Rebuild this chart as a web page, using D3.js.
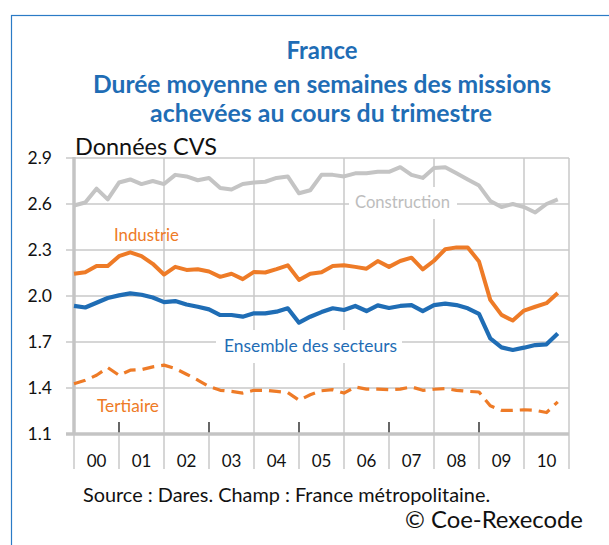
<!DOCTYPE html>
<html>
<head>
<meta charset="utf-8">
<script src="https://cdn.jsdelivr.net/npm/d3@7"></script>
<style>
  body { margin: 0; background: #fff; }
  svg { display: block; }
  text { font-family: Lato, "Open Sans", sans-serif; }
</style>
</head>
<body>
<div id="chart"></div>
<script>
// tick labels (years) and the y ticks
var years = ["00", "01", "02", "03", "04", "05", "06", "07", "08", "09", "10"];
var yTicks = [1.1, 1.4, 1.7, 2.0, 2.3, 2.6, 2.9];

// quarterly values, 2000T1 .. 2010T4
var construction = [2.59, 2.61, 2.70, 2.63, 2.74, 2.76, 2.73, 2.75, 2.73, 2.79, 2.78, 2.755,
    2.77, 2.705, 2.695, 2.73, 2.74, 2.745, 2.77, 2.78, 2.67, 2.69, 2.79,
    2.79, 2.78, 2.80, 2.80, 2.81, 2.81, 2.84, 2.79, 2.77, 2.835, 2.84,
    2.80, 2.76, 2.72, 2.62, 2.58, 2.60, 2.58, 2.545, 2.60, 2.63];
var industrie = [2.145, 2.155, 2.195, 2.195, 2.26, 2.285, 2.26, 2.21, 2.14, 2.19, 2.17, 2.175,
    2.16, 2.125, 2.145, 2.11, 2.157, 2.153, 2.175, 2.20, 2.105, 2.145, 2.155,
    2.195, 2.20, 2.19, 2.178, 2.228, 2.19, 2.228, 2.25, 2.174, 2.23, 2.305,
    2.317, 2.317, 2.225, 1.975, 1.877, 1.84, 1.905, 1.93, 1.953, 2.02];
var ensemble = [1.936, 1.925, 1.956, 1.987, 2.004, 2.017, 2.008, 1.99, 1.96, 1.967, 1.945, 1.93,
    1.913, 1.876, 1.876, 1.865, 1.887, 1.887, 1.898, 1.92, 1.826, 1.865, 1.895,
    1.92, 1.909, 1.935, 1.902, 1.939, 1.922, 1.935, 1.941, 1.902, 1.94, 1.95,
    1.941, 1.92, 1.883, 1.724, 1.665, 1.648, 1.663, 1.68, 1.685, 1.756];
var tertiaire = [1.428, 1.45, 1.483, 1.533, 1.483, 1.516, 1.52, 1.538, 1.549, 1.527, 1.49, 1.452,
    1.41, 1.385, 1.378, 1.367, 1.385, 1.385, 1.378, 1.37, 1.32, 1.356, 1.382,
    1.389, 1.367, 1.407, 1.393, 1.393, 1.389, 1.393, 1.407, 1.385, 1.392, 1.396,
    1.385, 1.378, 1.374, 1.284, 1.254, 1.254, 1.258, 1.254, 1.24, 1.31];

var quarters = [];
years.forEach(function(y) { [1, 2, 3, 4].forEach(function(q) { quarters.push("20" + y + "T" + q); }); });

var width = 609, height = 545;
var blue = "#1f6db5", orange = "#ee7b27", grey = "#c4c4c4", gridCol = "#c8c8c8";

var svg = d3.select("#chart").append("svg")
    .attr("width", width)
    .attr("height", height);

// blue frame, runs off the right and bottom edge
svg.append("rect")
    .attr("x", 11.5).attr("y", 15.5)
    .attr("width", 700).attr("height", 700)
    .attr("fill", "none")
    .attr("stroke", "#2b7bc6")
    .attr("stroke-width", 1.2);

// shrink / grow a text so it spans a given width
function fit(sel, w) {
    var fs = parseFloat(sel.attr("font-size"));
    var len = sel.node().getComputedTextLength();
    sel.attr("font-size", (fs * w / len).toFixed(2));
    return sel;
}

// titles
fit(svg.append("text").attr("x", 322).attr("y", 59).attr("text-anchor", "middle")
    .attr("font-size", 20).attr("font-weight", 700).attr("fill", blue).text("France"), 71);
fit(svg.append("text").attr("x", 322).attr("y", 93).attr("text-anchor", "middle")
    .attr("font-size", 20).attr("font-weight", 700).attr("fill", blue)
    .text("Durée moyenne en semaines des missions"), 458);
fit(svg.append("text").attr("x", 321).attr("y", 122).attr("text-anchor", "middle")
    .attr("font-size", 20).attr("font-weight", 700).attr("fill", blue)
    .text("achevées au cours du trimestre"), 342);

var x = d3.scaleLinear().domain([0, quarters.length]).range([74, 569]);
var y = d3.scaleLinear().domain([1.1, 2.9]).range([434, 158]);

// horizontal grid
var grid = svg.append("g").attr("stroke", gridCol).attr("stroke-width", 1.5);
grid.selectAll("line.h")
    .data(yTicks.slice(1))
    .enter().append("line")
    .attr("class", "h")
    .attr("x1", 66).attr("x2", x(quarters.length))
    .attr("y1", function(d) { return y(d); })
    .attr("y2", function(d) { return y(d); });

// vertical grid every two years + right border
var evenYears = d3.range(2, years.length + 1, 2);
grid.selectAll("line.v")
    .data(evenYears.concat([years.length]))
    .enter().append("line")
    .attr("class", "v")
    .attr("x1", function(d) { return x(d * 4); })
    .attr("x2", function(d) { return x(d * 4); })
    .attr("y1", y(2.9)).attr("y2", y(1.1));

// year separators under the axis
grid.selectAll("line.sep")
    .data(d3.range(0, years.length + 1))
    .enter().append("line")
    .attr("class", "sep")
    .attr("x1", function(d) { return x(d * 4); })
    .attr("x2", function(d) { return x(d * 4); })
    .attr("y1", y(1.1)).attr("y2", 469);

// black ticks on odd years
svg.append("g").selectAll("line")
    .data(d3.range(1, years.length, 2))
    .enter().append("line")
    .attr("x1", function(d) { return x(d * 4); })
    .attr("x2", function(d) { return x(d * 4); })
    .attr("y1", 422).attr("y2", y(1.1))
    .attr("stroke", "#000").attr("stroke-width", 1.2);

// axes
svg.append("line").attr("x1", 66).attr("x2", x(quarters.length))
    .attr("y1", y(1.1)).attr("y2", y(1.1))
    .attr("stroke", grey).attr("stroke-width", 3.5);
svg.append("line").attr("x1", x(0)).attr("x2", x(0))
    .attr("y1", y(2.9) - 1).attr("y2", y(1.1) + 1)
    .attr("stroke", grey).attr("stroke-width", 3.5);

// y labels
svg.append("g").selectAll("text")
    .data(yTicks)
    .enter().append("text")
    .attr("x", 52)
    .attr("y", function(d) { return y(d) + 6; })
    .attr("text-anchor", "end")
    .attr("font-size", 17.5)
    .attr("fill", "#111")
    .text(function(d) { return d3.format(".1f")(d); });

// year labels
svg.append("g").selectAll("text")
    .data(years)
    .enter().append("text")
    .attr("x", function(d, i) { return x(i * 4 + 2); })
    .attr("y", 467)
    .attr("text-anchor", "middle")
    .attr("font-size", 17)
    .attr("fill", "#111")
    .text(function(d) { return d; });

// "Données CVS"
fit(svg.append("text").attr("x", 75).attr("y", 155)
    .attr("font-size", 20).attr("fill", "#111").text("Données CVS"), 142);

// white boxes behind labels that cut the grid
svg.append("rect").attr("x", 349).attr("y", 187).attr("width", 108).attr("height", 32).attr("fill", "#fff");
svg.append("rect").attr("x", 216).attr("y", 330).attr("width", 186).attr("height", 33).attr("fill", "#fff");

var line = d3.line()
    .x(function(d, i) { return x(i); })
    .y(function(d) { return y(d); });

var series = [
    { values: construction, color: grey, dash: null, w: 4 },
    { values: tertiaire, color: orange, dash: "12,7", w: 3.2 },
    { values: industrie, color: orange, dash: null, w: 4 },
    { values: ensemble, color: blue, dash: null, w: 4.2 }
];
svg.append("g").selectAll("path")
    .data(series)
    .enter().append("path")
    .attr("d", function(d) { return line(d.values); })
    .attr("fill", "none")
    .attr("stroke", function(d) { return d.color; })
    .attr("stroke-width", function(d) { return d.w; })
    .attr("stroke-dasharray", function(d) { return d.dash; })
    .attr("stroke-linejoin", "round");

// series labels
fit(svg.append("text").attr("x", 355).attr("y", 208).attr("font-size", 16)
    .attr("fill", "#bdbdbd").text("Construction"), 95);
fit(svg.append("text").attr("x", 114).attr("y", 241).attr("font-size", 16)
    .attr("fill", orange).text("Industrie"), 65);
fit(svg.append("text").attr("x", 224).attr("y", 352).attr("font-size", 16)
    .attr("fill", blue).text("Ensemble des secteurs"), 173);
fit(svg.append("text").attr("x", 97).attr("y", 412).attr("font-size", 16)
    .attr("fill", orange).text("Tertiaire"), 62);

// source
fit(svg.append("text").attr("x", 83).attr("y", 502).attr("font-size", 15)
    .attr("fill", "#111").text("Source : Dares. Champ : France métropolitaine."), 407);
fit(svg.append("text").attr("x", 405).attr("y", 528).attr("font-size", 20)
    .attr("fill", "#111").text("© Coe-Rexecode"), 178);
</script>
</body>
</html>
